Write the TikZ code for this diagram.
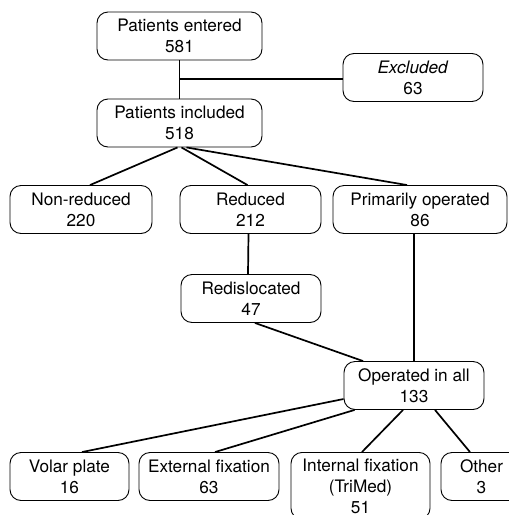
\documentclass[tikz,border=0pt]{standalone}
\usepackage{fontspec}
\setmainfont{TeX Gyre Heros}
\usepackage{tikz}

\begin{document}
\begin{tikzpicture}[x=1pt, y=-1pt,
  box/.style={draw, rounded corners=11pt, line width=0.9pt, align=center,
    inner sep=3pt, minimum height=48pt, font=\fontsize{17.2}{21}\selectfont},
  link/.style={line width=1.7pt}]

% Frame
\useasboundingbox (0,0) rectangle (509,515);

% Top part
\node[box, minimum width=165pt] (entered) at (179.5,36) {Patients entered\\581};
\node[box, minimum width=140pt] (excluded) at (413,77.5) {\textit{Excluded}\\63};
\node[box, minimum width=165pt] (included) at (179.5,123) {Patients included\\518};

\draw[link] (entered) -- (included);
\draw[link] (entered.south |- 0,79) -- (excluded.west |- 0,79);

% Second row
\node[box, minimum width=142pt] (nonred) at (81,209.5) {Non-reduced\\220};
\node[box, minimum width=141pt] (reduced) at (250.5,209.5) {Reduced\\212};
\node[box, minimum width=174pt] (primop) at (420,209.5) {Primarily operated\\86};

\draw[link] ([xshift=-2pt]included.south) -- ([xshift=9pt]nonred.north);
\draw[link] ([xshift=2pt]included.south) -- ([xshift=-3pt]reduced.north);
\draw[link] ([xshift=7pt]included.south) -- ([xshift=-13pt]primop.north);

% Redislocated and operated
\node[box, minimum width=140pt] (redisl) at (251,298.5) {Redislocated\\47};
\node[box, minimum width=140pt] (opall) at (414,385.5) {Operated in all\\133};

\draw[link] ([xshift=-2pt]reduced.south) -- ([xshift=-3pt]redisl.north);
\draw[link] (opall.north) -- (opall.north |- primop.south);
\draw[link] ([xshift=4pt]redisl.south) -- ([xshift=-51pt]opall.north);

% Bottom row
\node[box, minimum width=119pt] (volar) at (69.5,476.5) {Volar plate\\16};
\node[box, minimum width=140pt] (extfix) at (209,476.5) {External fixation\\63};
\node[box, minimum width=139pt, anchor=north, inner ysep=6pt] (intfix) at (360.5,452) {Internal fixation\\(TriMed)\\51};
\node[box, minimum width=81pt] (other) at (481.5,476.5) {Other\\3};

\draw[link] ([yshift=-13.5pt]opall.west) -- ([xshift=12.5pt]volar.north);
\draw[link] ([xshift=11pt]opall.south west) -- ([xshift=6pt]extfix.north);
\draw[link] ([xshift=-11pt]opall.south) -- ([xshift=1.5pt]intfix.north);
\draw[link] ([xshift=21pt]opall.south) -- ([xshift=-11.5pt]other.north);

\end{tikzpicture}
\end{document}
